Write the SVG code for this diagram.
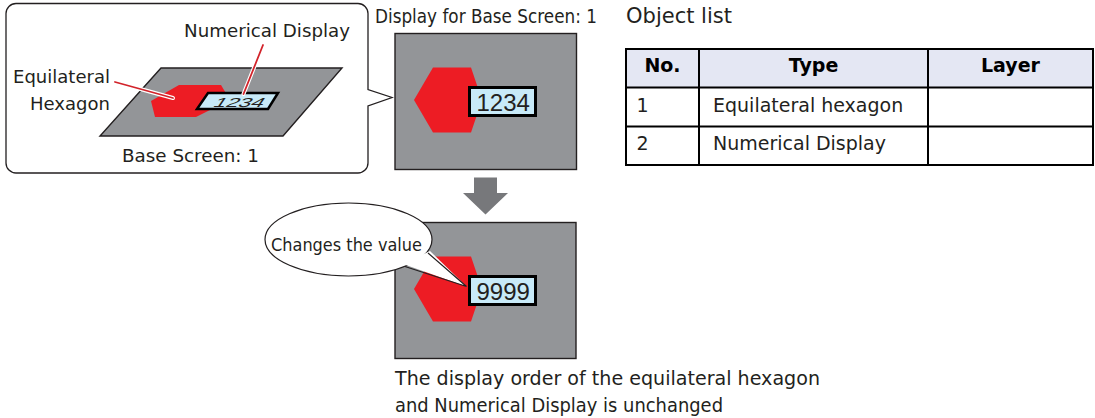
<svg xmlns="http://www.w3.org/2000/svg" width="1095" height="418" viewBox="0 0 1095 418">
  <style>
    .lbl { font-family: "DejaVu Sans", Verdana, sans-serif; fill: #231f20; }
    .num { font-family: "Liberation Sans", Arial, sans-serif; fill: #231f20; }
    .hdr { font-family: "DejaVu Sans", Verdana, sans-serif; font-weight: bold; fill: #000; font-size: 19px; text-anchor: middle; }
    .cell { font-family: "DejaVu Sans", Verdana, sans-serif; fill: #231f20; font-size: 19px; }
    .screen { fill: #939598; stroke: #231f20; stroke-width: 1.4; }
    .hex { fill: #ed1c24; }
    .disp { fill: #c8eaf8; stroke: #000; stroke-width: 3; }
    .grid { stroke: #000; stroke-width: 2; fill: none; }
    .leader-bg { stroke: #fff; stroke-width: 4; stroke-linecap: round; fill: none; }
    .leader { stroke: #d2232a; stroke-width: 1.8; stroke-linecap: round; fill: none; }
  </style>
  <defs>
    <polygon id="hexShape" class="hex" points="414,100 433,67.5 471,67.5 482,100 471,132.5 433,132.5"/>
  </defs>

  <!-- callout with the base screen drawn in perspective -->
  <g id="base-screen-callout">
    <path d="M16,3.5 H358 A10,10 0 0 1 368,13.5 V89.5 L392,97.5 L368,106 V163 A10,10 0 0 1 358,173 H16 A10,10 0 0 1 6,163 V13.5 A10,10 0 0 1 16,3.5 Z" fill="#fff" stroke="#231f20" stroke-width="1.3"/>
    <polygon class="screen" points="161,68 342,68 283,136 100,136"/>
    <polygon class="hex" points="151,101 179,85 221,85 230,100 196,117 155,117"/>
    <polygon points="208,93 278,93 268,109 197,109" fill="#c8eaf8" stroke="#000" stroke-width="2.5" stroke-linejoin="miter"/>
    <text class="num" font-size="13" transform="translate(212,106.5) skewX(-34) scale(1.72,1)">1234</text>
    <text class="lbl" font-size="18.5" x="184" y="36.5" textLength="166" lengthAdjust="spacingAndGlyphs">Numerical Display</text>
    <text class="lbl" font-size="18.5" x="13" y="83" textLength="97" lengthAdjust="spacingAndGlyphs">Equilateral</text>
    <text class="lbl" font-size="18.5" x="30" y="110" textLength="80" lengthAdjust="spacingAndGlyphs">Hexagon</text>
    <text class="lbl" font-size="18.5" x="122" y="162" textLength="137" lengthAdjust="spacingAndGlyphs">Base Screen: 1</text>
  </g>

  <!-- screen before the value changes -->
  <g id="screen-before">
    <text class="lbl" font-size="19" x="375" y="22.5" textLength="222" lengthAdjust="spacingAndGlyphs">Display for Base Screen: 1</text>
    <rect class="screen" x="395" y="33.5" width="181.5" height="136"/>
    <use href="#hexShape"/>
    <rect class="disp" x="469.5" y="87.5" width="66" height="28"/>
    <text class="num" font-size="24" x="476.5" y="110.5">1234</text>
  </g>

  <!-- screen after the value changes -->
  <g id="screen-after">
    <rect class="screen" x="395" y="222.5" width="181" height="136"/>
    <use href="#hexShape" transform="translate(0,189)"/>
    <rect class="disp" x="469.5" y="276.5" width="66" height="28"/>
    <text class="num" font-size="24" x="476.5" y="299.5">9999</text>
  </g>

  <!-- speech bubble -->
  <g id="bubble">
    <ellipse cx="348.5" cy="239.5" rx="83.5" ry="36.5" fill="#fff" stroke="#231f20" stroke-width="1.2"/>
    <polygon points="403,264 466.5,286.5 430,251" fill="#fff"/>
    <path d="M405,266.5 L466.5,286.5 L428,253" fill="none" stroke="#231f20" stroke-width="1.2" stroke-linejoin="miter"/>
    <text class="lbl" font-size="18" x="271" y="250.5" textLength="151" lengthAdjust="spacingAndGlyphs">Changes the value</text>
  </g>

  <!-- caption -->
  <g id="caption">
    <text class="lbl" font-size="19.5" x="395" y="385" textLength="425" lengthAdjust="spacingAndGlyphs">The display order of the equilateral hexagon</text>
    <text class="lbl" font-size="19.5" x="395" y="411.5" textLength="328" lengthAdjust="spacingAndGlyphs">and Numerical Display is unchanged</text>
  </g>

  <!-- object list table -->
  <g id="object-list">
    <text class="lbl" font-size="21" x="626" y="23.3" textLength="106">Object list</text>
    <rect x="626" y="49" width="467" height="38.5" fill="#e4e7f3"/>
    <rect class="grid" x="626" y="49" width="467" height="116"/>
    <line class="grid" x1="626" y1="87.5" x2="1093" y2="87.5"/>
    <line class="grid" x1="626" y1="126.5" x2="1093" y2="126.5"/>
    <line class="grid" x1="699" y1="49" x2="699" y2="165"/>
    <line class="grid" x1="928" y1="49" x2="928" y2="165"/>
    <text class="hdr" x="662.5" y="71.5">No.</text>
    <text class="hdr" x="813.5" y="71.5">Type</text>
    <text class="hdr" x="1010.5" y="71.5">Layer</text>
    <text class="cell" x="636.5" y="111.5">1</text>
    <text class="cell" x="713" y="111.5">Equilateral hexagon</text>
    <text class="cell" x="636.5" y="150">2</text>
    <text class="cell" x="713" y="150">Numerical Display</text>
  </g>

  <!-- leaders and the step arrow -->
  <g id="connectors">
    <line class="leader-bg" x1="115" y1="82" x2="173" y2="98"/>
    <line class="leader" x1="115" y1="82" x2="173" y2="98"/>
    <line class="leader-bg" x1="263" y1="45" x2="243.5" y2="94"/>
    <line class="leader" x1="263" y1="45" x2="243.5" y2="94"/>
    <polygon points="474,177.5 497,177.5 497,193 508,193 485.5,214.5 463,193 474,193" fill="#77787b"/>
  </g>
</svg>
